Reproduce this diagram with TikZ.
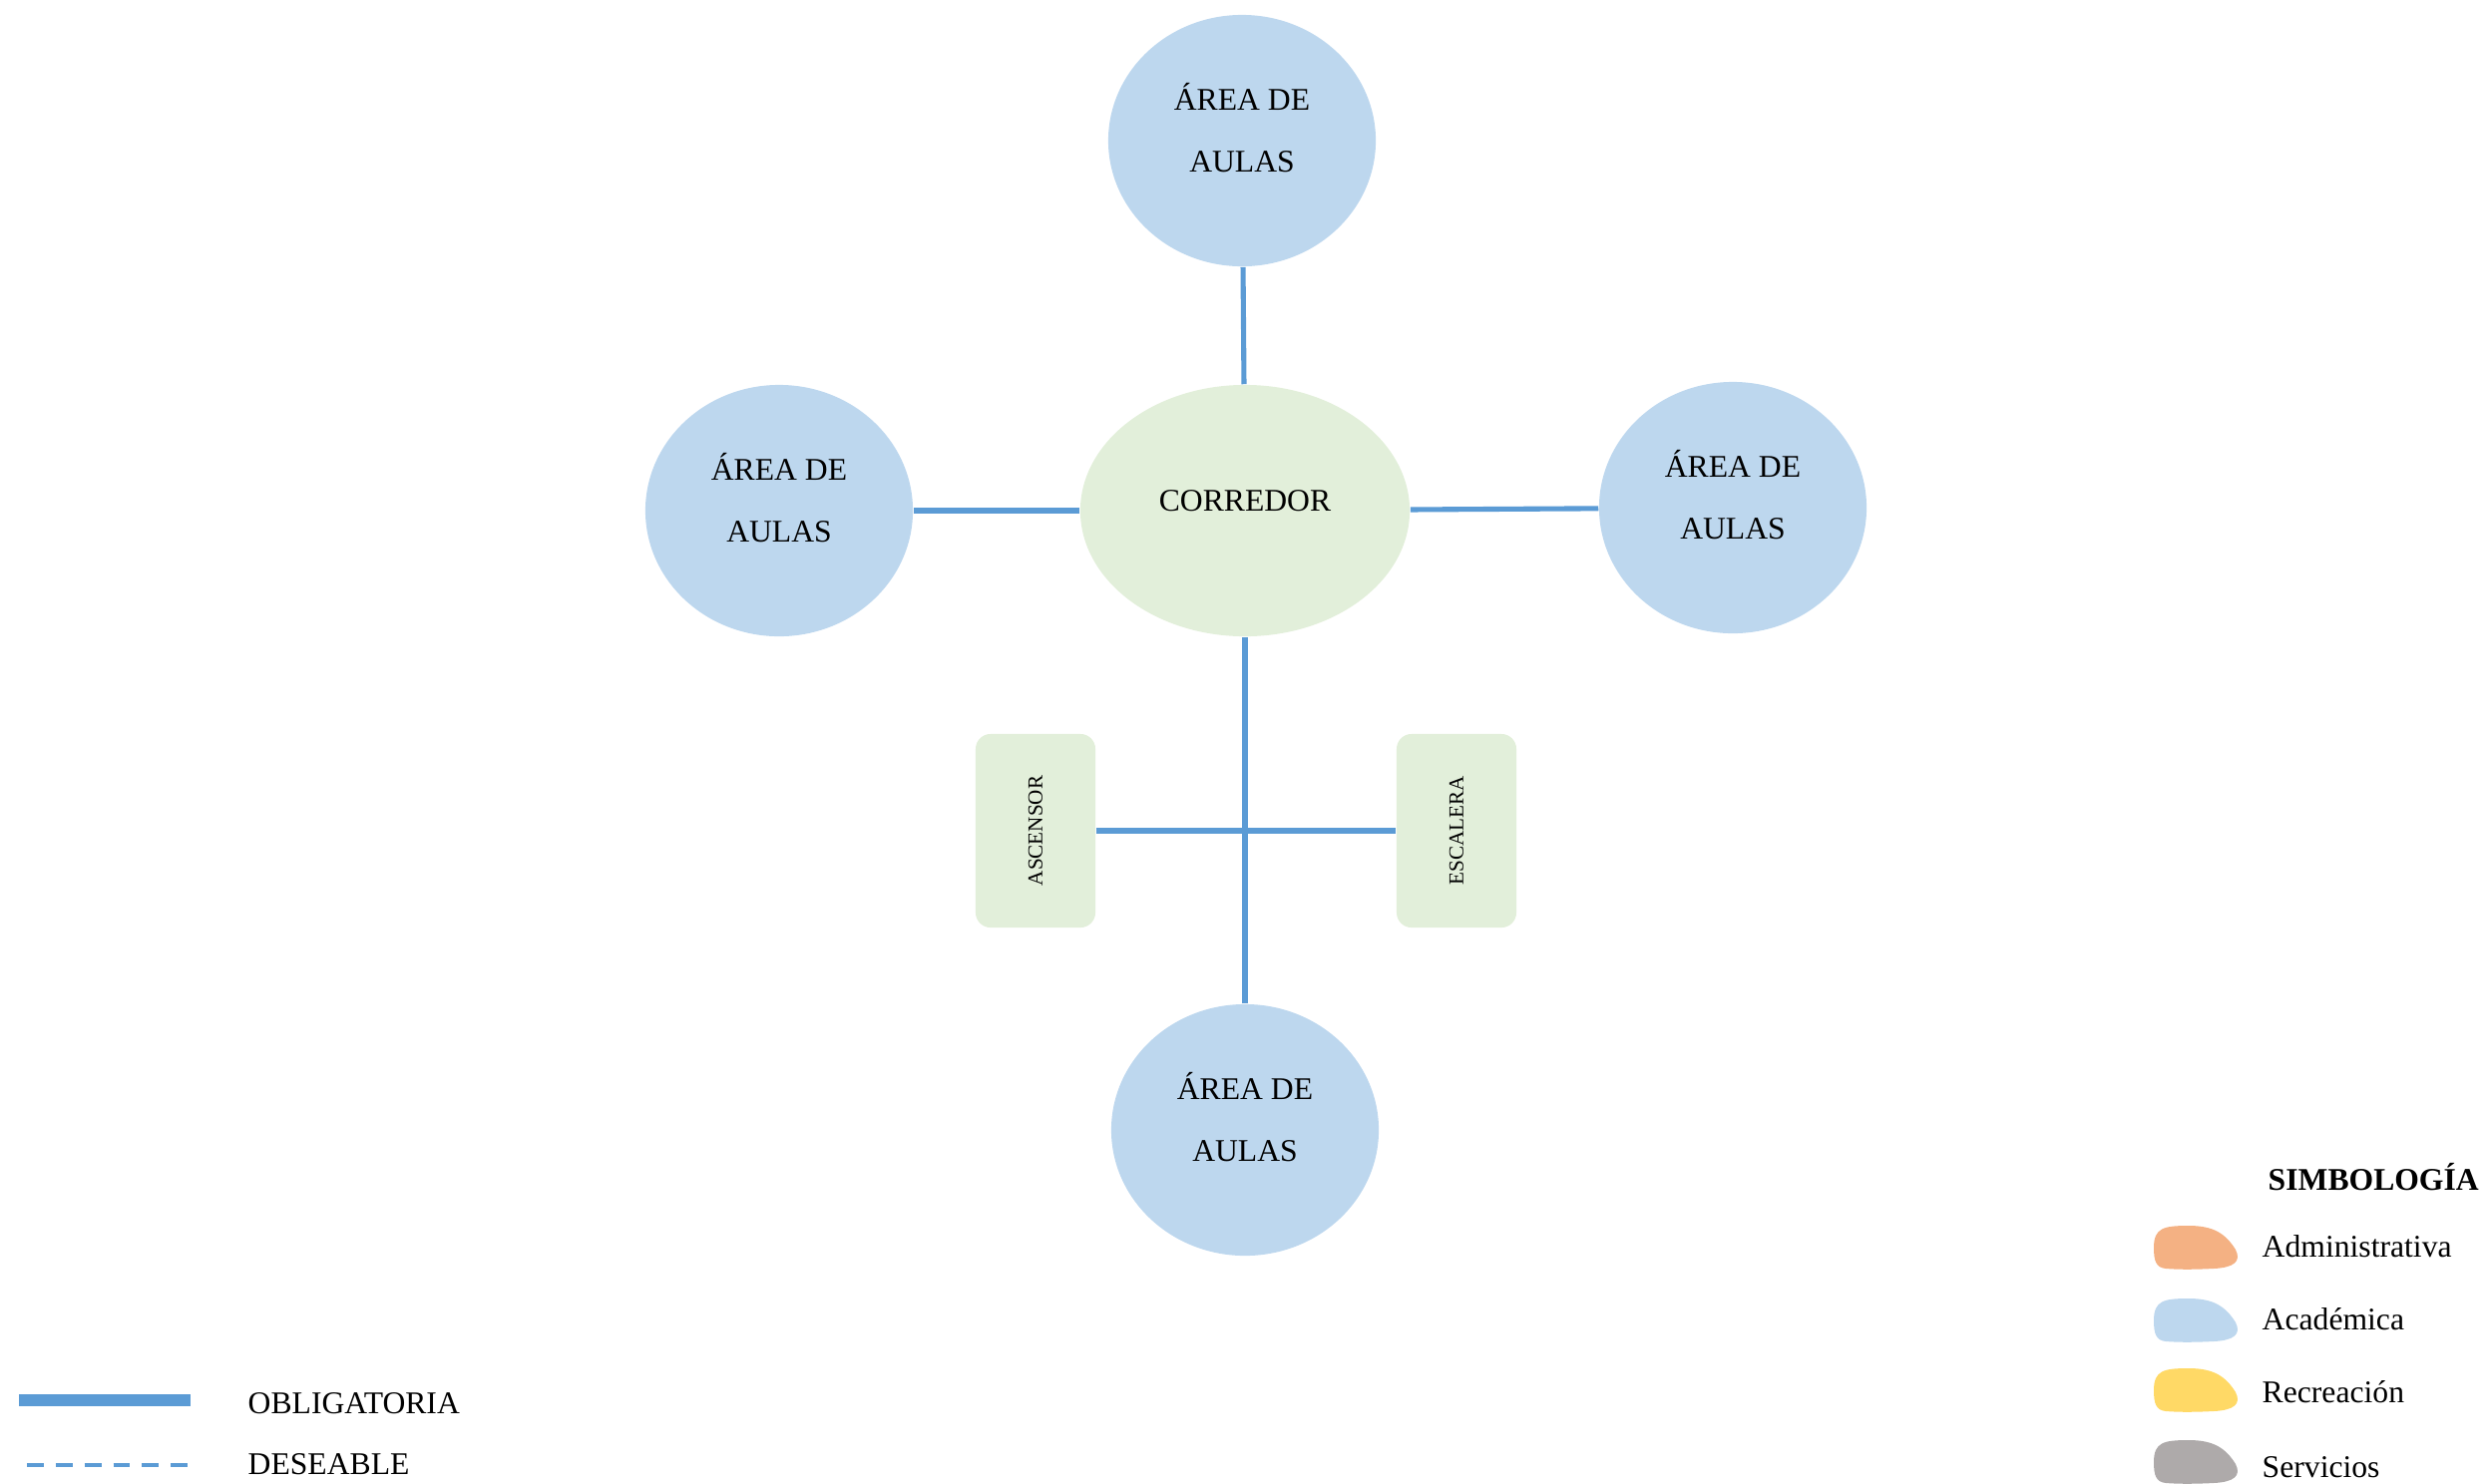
\documentclass[tikz,border=0pt]{standalone}
\usepackage{fontspec}
\setmainfont{Liberation Serif}
\usetikzlibrary{positioning, shapes.geometric}
\definecolor{linea}{HTML}{5B9BD5}
\definecolor{acad}{HTML}{BDD7EE}
\definecolor{circ}{HTML}{E2EFDA}
\definecolor{admin}{HTML}{F4B183}
\definecolor{recre}{HTML}{FFD966}
\definecolor{serv}{HTML}{AEAAAA}

\begin{document}
\begin{tikzpicture}[
    x=0.01cm, y=-0.01cm,
    font=\fontsize{9}{17.6}\selectfont,
    % Estilos de los nodos
    aulas/.style={
        ellipse,
        fill=acad,
        minimum width=2.68cm,
        minimum height=2.52cm,
        inner sep=0pt,
        text height=0.62cm,
        text depth=0pt,
        align=center
    },
    pasillo/.style={aulas, fill=circ, minimum width=3.30cm, text height=0pt},
    vertical/.style={
        rectangle,
        fill=circ,
        rounded corners=0.15cm,
        minimum width=1.20cm,
        minimum height=1.94cm,
        font=\fontsize{6}{7}\selectfont
    },
    rotulo/.style={anchor=base west, inner sep=0pt},
    % Estilos de las lineas
    obligatoria/.style={line width=1.45pt, color=linea},
    mancha/.pic={
        \fill[#1] (-42,0) .. controls (-42,-20) and (-32,-22) .. (-7,-22)
            .. controls (18,-22) and (30,-14) .. (40,2)
            .. controls (46,14) and (38,20) .. (18,21)
            .. controls (-2,22) and (-17,22) .. (-30,21)
            .. controls (-40,20) and (-42,13) .. (-42,0);
    }
]
\useasboundingbox (0,0) rectangle (2494,1487);

% -- Nodos --
\node[pasillo] (cor) at (1248,512) {CORREDOR};
\node[aulas] (arriba) at (1245,141) {ÁREA DE\\AULAS};
\node[aulas] (izq) at (781,512) {ÁREA DE\\AULAS};
\node[aulas] (der) at (1737,509) {ÁREA DE\\AULAS};
\node[aulas] (abajo) at (1248,1133) {ÁREA DE\\AULAS};

\node[vertical] (asc) at (1038,833) {\rotatebox{90}{ASCENSOR}};
\node[vertical] (esc) at (1460,833) {\rotatebox{90}{ESCALERA}};

% -- Conexiones --
\draw[obligatoria] (arriba) -- (cor);
\draw[obligatoria] (izq) -- (cor);
\draw[obligatoria] (cor) -- (der);
\draw[obligatoria] (cor) -- (abajo);
\draw[obligatoria] (asc) -- (esc);

% -- Leyenda de lineas --
\draw[color=linea, line width=3.4pt] (19,1404) -- (191,1404);
\draw[color=linea, line width=1.1pt, dash pattern=on 4.8pt off 3.4pt] (27,1469) -- (191,1469);
\node[rotulo] (oblig) at (248,1417) {OBLIGATORIA};
\node[rotulo] (desea) at (248,1478) {DESEABLE};

% -- Simbologia --
\node[rotulo, font=\fontsize{9}{10}\selectfont\bfseries] (simb) at (2273,1193) {SIMBOLOGÍA};
\pic at (2201,1251) {mancha=admin};
\pic at (2201,1324) {mancha=acad};
\pic at (2201,1394) {mancha=recre};
\pic at (2201,1466) {mancha=serv};
\node[rotulo] (adm) at (2267,1260) {Administrativa};
\node[rotulo] (aca) at (2267,1333) {Académica};
\node[rotulo] (rec) at (2267,1406) {Recreación};
\node[rotulo] (ser) at (2267,1481) {Servicios};

\end{tikzpicture}
\end{document}
